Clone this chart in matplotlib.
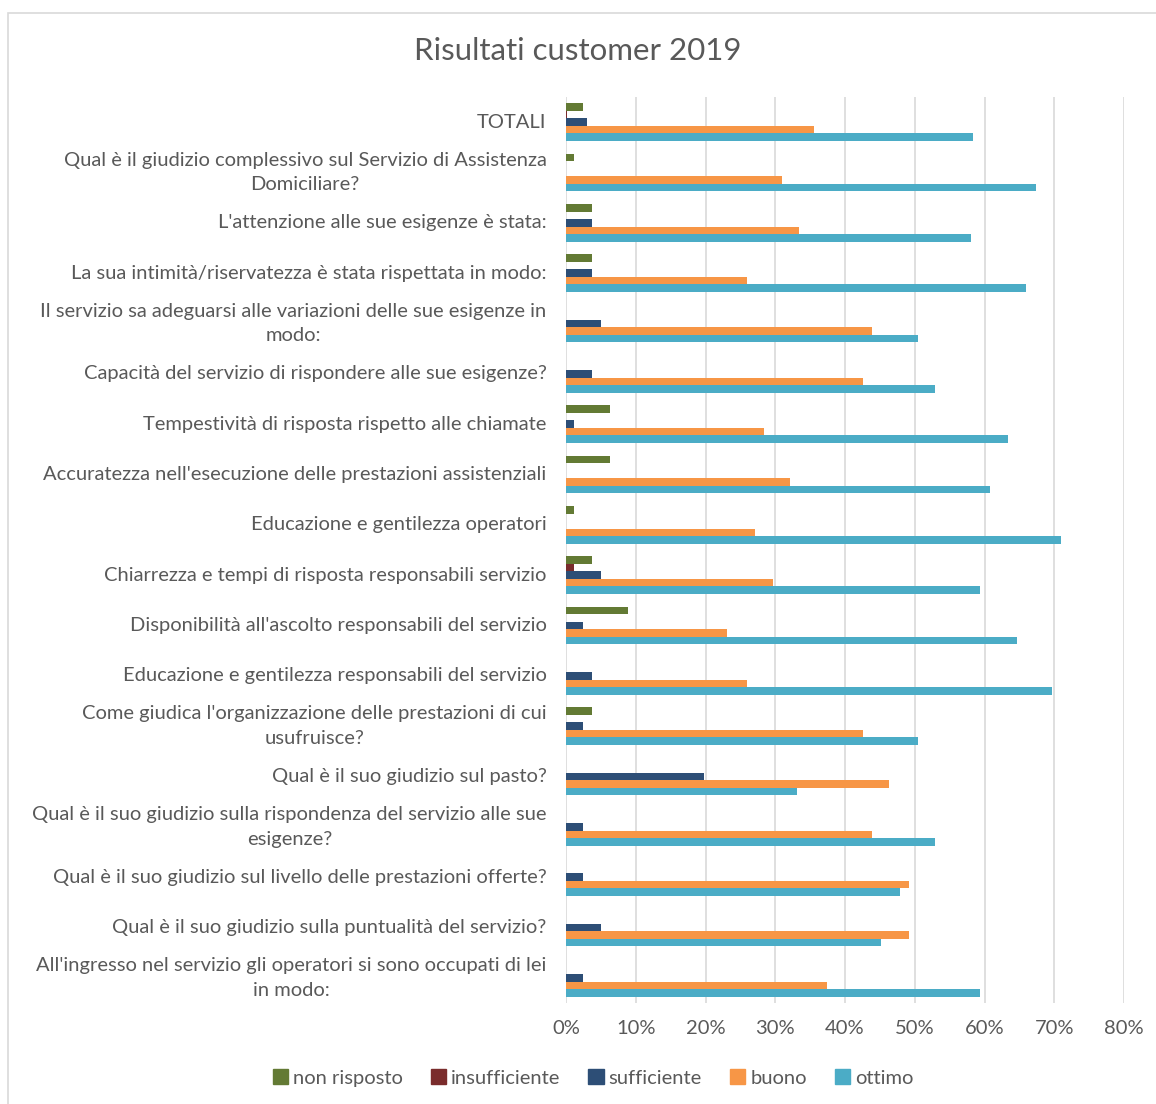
import numpy as np
import matplotlib.pyplot as plt
from matplotlib.patches import Rectangle, Patch

plt.rcParams["font.family"] = ["Lato", "DejaVu Sans"]

categories = [
    "TOTALI",
    "Qual è il giudizio complessivo sul Servizio di Assistenza\nDomiciliare?",
    "L'attenzione alle sue esigenze è stata:",
    "La sua intimità/riservatezza è stata rispettata in modo:",
    "Il servizio sa adeguarsi alle variazioni delle sue esigenze in\nmodo:",
    "Capacità del servizio di rispondere alle sue esigenze?",
    "Tempestività di risposta rispetto alle chiamate",
    "Accuratezza nell'esecuzione delle prestazioni assistenziali",
    "Educazione e gentilezza operatori",
    "Chiarrezza e tempi di risposta responsabili servizio",
    "Disponibilità all'ascolto responsabili del servizio",
    "Educazione e gentilezza responsabili del servizio",
    "Come giudica l'organizzazione delle prestazioni di cui\nusufruisce?",
    "Qual è il suo giudizio sul pasto?",
    "Qual è il suo giudizio sulla rispondenza del servizio alle sue\nesigenze?",
    "Qual è il suo giudizio sul livello delle prestazioni offerte?",
    "Qual è il suo giudizio sulla puntualità del servizio?",
    "All'ingresso nel servizio gli operatori si sono occupati di lei\nin modo:",
]

series_names = ["non risposto", "insufficiente", "sufficiente", "buono", "ottimo"]

non_risposto = [2.4, 1.1, 3.7, 3.7, 0, 0, 6.3, 6.3, 1.1, 3.7, 8.9, 0, 3.7, 0, 0, 0, 0, 0]
insufficiente = [0.2, 0, 0, 0, 0, 0, 0, 0, 0, 1.1, 0, 0, 0, 0, 0, 0, 0, 0]
sufficiente = [3.0, 0, 3.7, 3.7, 5.0, 3.7, 1.1, 0, 0, 5.0, 2.4, 3.7, 2.4, 19.8, 2.4, 2.4, 5.0, 2.4]
buono = [35.6, 31.0, 33.4, 25.9, 43.9, 42.6, 28.4, 32.1, 27.1, 29.7, 23.1, 25.9, 42.6, 46.3, 43.9, 49.2, 49.2, 37.4]
ottimo = [58.4, 67.4, 58.1, 66.0, 50.5, 52.9, 63.4, 60.8, 71.0, 59.4, 64.7, 69.7, 50.5, 33.1, 52.9, 47.9, 45.2, 59.4]

colors = ["#637A34", "#7A2C2C", "#2D4E76", "#F79646", "#4BACC6"]

W, H = 1156, 1104
fig = plt.figure(figsize=(W / 100, H / 100), dpi=100)
ax = fig.add_axes([566 / W, 1 - 1003 / H, (1124 - 566) / W, (1003 - 97) / H])

data = [non_risposto, insufficiente, sufficiente, buono, ottimo]
y = np.arange(len(categories))
bh = 0.149
for k, (vals, col, name) in enumerate(zip(data, colors, series_names)):
    offs = (k - 2) * bh
    ax.barh(y + offs, vals, height=bh, color=col, label=name, zorder=3)

ax.set_ylim(len(categories) - 0.5, -0.5)
ax.set_xlim(0, 80)
ax.set_xticks(np.arange(0, 81, 10))
ax.set_xticklabels([f"{v}%" for v in range(0, 81, 10)])
ax.set_yticks(y)
ax.set_yticklabels(categories)
ax.tick_params(axis="both", length=0, labelsize=14.5, colors="#595959")
ax.tick_params(axis="y", pad=14)
ax.tick_params(axis="x", pad=12)
for t in ax.get_yticklabels():
    t.set_multialignment("center")
    t.set_linespacing(1.55)
    t.set_verticalalignment("center")
for s in ax.spines.values():
    s.set_visible(False)
ax.grid(axis="x", color="#d9d9d9", linewidth=1.2, zorder=0)
ax.set_axisbelow(True)

fig.text(0.5, 1 - 51 / H, "Risultati customer 2019", ha="center", va="center",
         fontsize=22.5, color="#595959")

handles = [Patch(color=c) for c in colors]
fig.legend(handles, series_names, loc="center", bbox_to_anchor=(593 / W, 1 - 1078 / H),
           ncol=5, frameon=False, fontsize=14.5, handlelength=0.75, handleheight=0.75,
           handletextpad=0.25, columnspacing=1.4, labelcolor="#595959")

fig.patches.append(Rectangle((8 / W, -0.01), 1.0, 1 - 13 / H + 0.01, transform=fig.transFigure,
                             fill=False, edgecolor="#d9d9d9", linewidth=1.2))

fig.savefig("out.png", dpi=100)
